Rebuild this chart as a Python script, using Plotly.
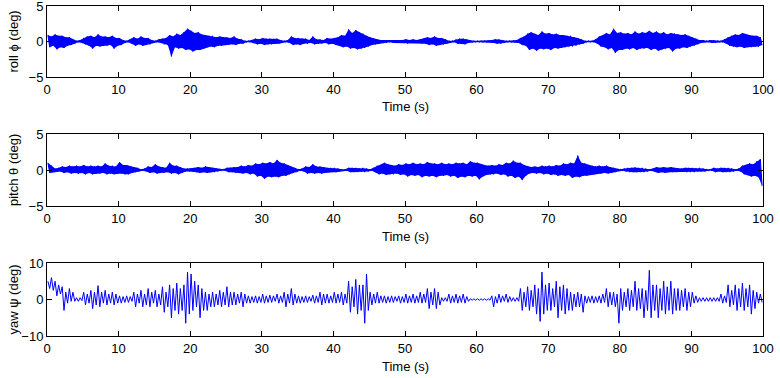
import plotly.graph_objects as go

# Envelope of each signal in 0.5 s bins (max / min within each bin)
bin_width = 0.5

roll_hi = [0.9,0.7, 1.0,0.8, 0.8,0.6, 0.6,0.3, 0.1,0.2, 0.5,0.7, 0.8,0.6, 1.0,0.7, 0.7,0.6, 0.8,0.5,
           0.5,0.2, 0.1,0.3, 0.6,0.4, 0.7,0.5, 0.5,0.2, 0.1,0.3, 0.4,0.5, 0.9,0.7, 1.1,0.9, 1.3,1.8,
           1.5,1.2, 1.3,1.0, 0.9,0.8, 0.8,0.6, 0.7,0.6, 0.6,0.5, 0.7,0.4, 0.3,0.1, 0.1,0.2, 0.4,0.3,
           0.5,0.4, 0.4,0.3, 0.4,0.2, 0.1,0.2, 0.7,0.5, 0.5,0.4, 0.4,0.2, 0.7,0.3, 0.3,0.2, 0.5,0.4,
           0.5,0.6, 0.9,0.8, 1.7,1.2, 1.6,1.3, 1.1,0.8, 0.6,0.4, 0.3,0.2, 0.2,0.1, 0.2,0.2, 0.2,0.2,
           0.3,0.2, 0.3,0.2, 0.3,0.4, 0.6,0.5, 0.7,0.5, 0.5,0.3, 0.1,0.1, 0.3,0.4, 0.4,0.3, 0.1,0.1,
           0.1,0.1, 0.1,0.1, 0.2,0.3, 0.3,0.2, 0.1,0.1, 0.1,0.2, 0.5,0.7, 1.1,1.3, 1.1,0.9, 1.4,1.1,
           1.2,1.0, 1.1,0.9, 0.9,0.8, 0.8,0.6, 0.5,0.3, 0.1,0.1, 0.1,0.3, 0.7,0.9, 1.2,1.0, 1.8,1.2,
           1.3,1.1, 1.2,1.0, 1.4,1.1, 1.3,1.2, 1.5,1.2, 1.4,1.1, 1.3,1.0, 1.2,1.1, 1.0,0.9, 1.0,0.8,
           0.6,0.4, 0.2,0.2, 0.1,0.2, 0.2,0.1, 0.1,0.3, 0.6,0.8, 1.0,0.9, 1.2,1.0, 0.9,0.8, 0.8,0.6]
roll_lo = [-0.8,-0.6, -1.1,-0.8, -0.9,-0.6, -0.5,-0.3, -0.1,-0.2, -0.4,-0.6, -1.0,-0.6, -0.7,-0.6, -0.6,-0.5, -1.0,-0.6,
           -0.5,-0.2, -0.1,-0.3, -0.6,-0.4, -0.6,-0.5, -0.4,-0.2, -0.1,-0.2, -0.4,-0.5, -2.1,-0.8, -1.0,-0.9, -1.2,-1.1,
           -1.4,-1.2, -1.2,-1.0, -0.8,-0.7, -0.8,-0.6, -0.6,-0.5, -0.5,-0.4, -0.5,-0.3, -0.3,-0.1, -0.1,-0.2, -0.4,-0.3,
           -0.5,-0.4, -0.4,-0.3, -0.3,-0.2, -0.1,-0.2, -0.5,-0.4, -0.5,-0.3, -0.3,-0.2, -0.4,-0.3, -0.3,-0.2, -0.4,-0.3,
           -0.5,-0.6, -0.8,-0.7, -1.0,-0.9, -1.1,-1.0, -0.9,-0.7, -0.5,-0.4, -0.3,-0.2, -0.2,-0.1, -0.2,-0.2, -0.2,-0.2,
           -0.3,-0.2, -0.2,-0.2, -0.3,-0.3, -0.5,-0.4, -0.6,-0.5, -0.4,-0.3, -0.1,-0.1, -0.3,-0.3, -0.4,-0.2, -0.1,-0.1,
           -0.1,-0.1, -0.1,-0.1, -0.2,-0.3, -0.3,-0.2, -0.1,-0.1, -0.1,-0.2, -0.5,-0.6, -1.2,-1.0, -1.3,-1.0, -1.1,-1.0,
           -1.2,-0.9, -1.0,-0.9, -0.8,-0.7, -0.7,-0.6, -0.4,-0.3, -0.1,-0.1, -0.1,-0.3, -0.7,-0.8, -1.1,-0.9, -1.6,-1.2,
           -1.2,-1.0, -1.1,-0.9, -1.2,-1.0, -1.0,-0.9, -1.2,-1.0, -1.3,-1.1, -1.0,-0.9, -1.4,-1.0, -1.0,-0.8, -0.9,-0.7,
           -0.6,-0.4, -0.2,-0.1, -0.1,-0.2, -0.2,-0.1, -0.1,-0.3, -0.6,-0.7, -0.8,-0.7, -0.9,-0.8, -0.8,-0.7, -0.7,-0.5]

pitch_hi = [1.0,0.6, 0.2,0.3, 0.5,0.4, 0.6,0.5, 0.6,0.5, 0.7,0.5, 0.6,0.5, 0.6,0.5, 0.9,0.6, 0.6,0.5,
            1.1,0.7, 0.7,0.5, 0.4,0.3, 0.1,0.2, 0.5,0.4, 0.8,0.5, 0.4,0.3, 1.0,0.6, 0.6,0.4, 0.2,0.2,
            0.2,0.3, 0.4,0.3, 0.5,0.4, 0.3,0.2, 0.1,0.1, 0.3,0.3, 0.4,0.4, 0.6,0.5, 0.7,0.6, 0.9,0.8,
            1.0,0.9, 1.1,0.9, 1.4,1.0, 0.9,0.7, 0.4,0.3, 0.1,0.2, 0.5,0.4, 0.8,0.5, 0.5,0.4, 0.3,0.3,
            0.3,0.2, 0.1,0.1, 0.3,0.3, 0.3,0.2, 0.3,0.2, 0.1,0.3, 0.6,0.7, 1.0,0.8, 0.7,0.6, 0.8,0.7,
            0.9,0.8, 1.0,0.8, 0.9,0.8, 1.1,0.9, 0.9,0.8, 1.0,0.8, 0.9,0.8, 1.0,0.9, 1.0,0.8, 1.2,1.0,
            1.0,0.8, 0.7,0.6, 0.7,0.6, 0.8,0.7, 1.0,0.9, 1.3,1.0, 1.0,0.7, 0.5,0.4, 0.5,0.4, 0.6,0.5,
            0.6,0.5, 0.7,0.6, 0.9,0.8, 1.0,0.9, 2.0,1.0, 0.9,0.7, 0.6,0.5, 0.6,0.5, 0.6,0.4, 0.3,0.1,
            0.1,0.2, 0.3,0.3, 0.35,0.3, 0.3,0.2, 0.1,0.2, 0.4,0.3, 0.4,0.3, 0.4,0.3, 0.2,0.2, 0.3,0.3,
            0.3,0.2, 0.3,0.2, 0.1,0.1, 0.3,0.2, 0.3,0.3, 0.3,0.2, 0.1,0.2, 0.6,0.7, 0.9,0.8, 1.2,1.5]
pitch_lo = [-0.4,-0.3, -0.2,-0.2, -0.4,-0.3, -0.5,-0.4, -0.5,-0.4, -0.6,-0.4, -0.6,-0.5, -0.5,-0.4, -0.6,-0.5, -0.6,-0.5,
            -0.5,-0.6, -0.6,-0.4, -0.3,-0.2, -0.1,-0.2, -0.4,-0.3, -0.5,-0.4, -0.4,-0.3, -0.5,-0.4, -0.6,-0.4, -0.2,-0.2,
            -0.2,-0.3, -0.4,-0.3, -0.4,-0.3, -0.3,-0.2, -0.1,-0.1, -0.3,-0.3, -0.4,-0.4, -0.5,-0.4, -0.6,-0.5, -0.9,-0.8,
            -1.2,-0.9, -1.0,-0.9, -1.0,-0.8, -0.8,-0.6, -0.4,-0.3, -0.1,-0.2, -0.5,-0.4, -0.5,-0.4, -0.5,-0.4, -0.3,-0.3,
            -0.3,-0.2, -0.1,-0.1, -0.3,-0.3, -0.3,-0.2, -0.3,-0.2, -0.1,-0.3, -0.6,-0.5, -0.7,-0.6, -0.6,-0.5, -0.7,-0.6,
            -0.9,-0.7, -0.8,-0.7, -1.0,-0.8, -0.9,-0.8, -1.0,-0.8, -0.8,-0.7, -0.9,-0.8, -1.1,-0.9, -1.0,-0.8, -0.9,-0.8,
            -1.3,-0.9, -0.7,-0.6, -0.6,-0.5, -0.7,-0.6, -0.9,-0.8, -1.1,-0.9, -1.4,-0.8, -0.5,-0.4, -0.5,-0.4, -0.6,-0.5,
            -0.7,-0.6, -0.8,-0.7, -0.8,-0.7, -1.1,-0.9, -1.0,-0.8, -0.8,-0.7, -0.6,-0.5, -0.5,-0.4, -0.5,-0.4, -0.3,-0.1,
            -0.1,-0.2, -0.3,-0.3, -0.3,-0.3, -0.3,-0.2, -0.1,-0.2, -0.4,-0.3, -0.4,-0.3, -0.3,-0.3, -0.2,-0.2, -0.3,-0.3,
            -0.3,-0.2, -0.2,-0.2, -0.1,-0.1, -0.3,-0.2, -0.3,-0.3, -0.3,-0.2, -0.1,-0.2, -0.6,-0.7, -0.9,-0.8, -1.0,-2.2]

yaw_hi = [5.0,6.0, 5.0,4.0, 3.5,2.0, 3.0,2.0, 0.5,0.5, 2.0,1.5, 2.5,2.0, 3.8,2.0, 2.5,1.5, 2.0,1.5,
          1.0,0.8, 1.0,0.8, 2.0,1.5, 2.5,1.5, 3.0,2.0, 2.5,1.5, 3.5,2.0, 4.0,3.0, 4.5,3.0, 4.0,7.5,
          7.0,5.0, 4.0,3.0, 2.0,1.5, 2.0,1.5, 2.5,2.0, 3.5,2.0, 2.0,1.5, 2.0,1.5, 1.0,0.8, 1.0,0.8,
          1.5,1.0, 1.2,1.0, 1.5,1.0, 2.0,1.5, 3.0,1.5, 1.0,0.8, 1.0,0.8, 1.2,1.0, 2.0,1.5, 1.5,1.0,
          2.0,1.5, 2.0,1.5, 5.0,3.5, 5.5,4.0, 4.0,7.0, 2.0,1.5, 2.0,1.0, 1.0,0.8, 1.0,0.8, 1.0,0.8,
          1.5,1.0, 1.5,1.0, 2.0,1.5, 3.0,2.0, 3.0,2.0, 0.5,0.5, 1.5,1.0, 1.5,1.0, 1.5,0.8, 0.2,0.2,
          0.2,0.2, 0.2,0.2, 1.0,0.8, 1.5,1.0, 1.5,0.8, 0.5,0.5, 3.0,2.0, 3.5,2.5, 4.0,3.0, 7.5,4.0,
          4.5,3.0, 5.0,3.5, 4.0,3.0, 2.0,1.5, 2.0,1.5, 1.0,0.8, 1.0,0.8, 1.0,1.5, 3.0,2.0, 2.0,1.5,
          3.0,2.0, 3.0,2.5, 5.0,3.0, 3.0,2.5, 8.0,4.0, 4.0,3.0, 5.0,3.5, 5.0,3.0, 3.0,2.5, 3.0,2.0,
          2.0,1.0, 0.5,0.5, 0.5,0.5, 0.5,0.5, 1.5,1.0, 4.0,2.5, 4.0,3.0, 4.5,3.0, 4.0,2.5, 2.0,1.5]
yaw_lo = [3.0,2.5, 1.0,1.5, -3.0,-1.0, -0.5,-0.5, -0.5,-0.3, -1.5,-1.0, -2.5,-1.5, -2.0,-1.0, -1.5,-1.0, -1.5,-1.0,
          -1.0,-0.8, -0.8,-0.5, -2.0,-1.0, -2.0,-1.5, -2.0,-1.0, -2.0,-1.5, -3.5,-2.0, -5.0,-3.0, -4.0,-3.0, -6.5,-4.0,
          -3.0,-2.0, -5.0,-3.0, -3.0,-2.0, -2.0,-1.5, -2.0,-1.5, -2.0,-1.5, -1.5,-1.0, -2.0,-1.0, -1.0,-0.8, -1.0,-0.8,
          -1.0,-0.8, -0.8,-0.5, -1.0,-0.8, -2.0,-1.0, -1.5,-1.0, -1.0,-0.8, -0.8,-0.5, -1.0,-0.8, -1.5,-1.0, -1.0,-0.8,
          -1.0,-0.8, -1.5,-1.0, -3.5,-2.0, -4.0,-3.0, -6.5,-3.0, -1.5,-1.0, -1.0,-0.8, -1.0,-0.8, -0.8,-0.5, -1.0,-0.8,
          -1.0,-0.8, -1.0,-0.8, -1.0,-0.8, -2.5,-1.5, -2.5,-1.5, -0.5,-0.5, -1.0,-0.8, -1.0,-0.8, -1.0,-0.5, -0.2,-0.2,
          -0.2,-0.2, -0.2,-0.2, -2.0,-1.0, -0.8,-0.5, -0.8,-0.5, -0.5,-0.5, -3.0,-2.0, -3.0,-2.0, -4.0,-6.0, -4.0,-3.0,
          -3.0,-2.0, -5.0,-3.0, -4.0,-3.0, -3.0,-2.0, -2.0,-3.5, -1.0,-0.8, -1.0,-0.8, -1.0,-0.8, -2.0,-1.5, -2.0,-6.5,
          -3.0,-2.0, -3.0,-2.0, -3.0,-2.5, -5.0,-3.0, -5.0,-3.0, -5.0,-3.0, -4.0,-3.0, -4.0,-3.0, -3.0,-2.0, -3.0,-2.0,
          -1.0,-0.8, -0.5,-0.5, -0.5,-0.5, -0.5,-0.5, -1.0,-0.8, -2.0,-1.5, -3.0,-2.0, -3.0,-2.0, -4.0,-2.5, -1.0,-0.8]

x_ticks = [0, 10, 20, 30, 40, 50, 60, 70, 80, 90, 100]
# (label, upper envelope, lower envelope, y ticks, draw dense core as filled band)
panels = [
    ("roll \u03d5 (deg)", roll_hi, roll_lo, [-5, 0, 5], True),
    ("pitch \u03b8 (deg)", pitch_hi, pitch_lo, [-5, 0, 5], True),
    ("yaw \u03c8 (deg)", yaw_hi, yaw_lo, [-10, 0, 10], False),
]

W, H = 780, 378
x0, x1 = 47, 763
pix_rows = [(6, 77), (134, 206), (263, 336)]
BLUE = "#0000ff"

fig = go.Figure()
FONT = "Liberation Sans, Arial, sans-serif"

for k, (label, hi, lo, yt, band) in enumerate(panels):
    n = "" if k == 0 else str(k + 1)
    t_hi = [j * bin_width + 0.25 * bin_width for j in range(len(hi))]
    t_lo = [j * bin_width + 0.75 * bin_width for j in range(len(lo))]
    if band:
        fig.add_trace(go.Scatter(x=t_hi, y=hi, mode="lines", line=dict(width=0, color=BLUE),
                                 xaxis="x" + n, yaxis="y" + n, showlegend=False,
                                 hoverinfo="skip"))
        fig.add_trace(go.Scatter(x=t_lo, y=lo, mode="lines", line=dict(width=0, color=BLUE),
                                 fill="tonexty", fillcolor=BLUE,
                                 xaxis="x" + n, yaxis="y" + n, showlegend=False,
                                 hoverinfo="skip"))
    t, v = [], []
    for th, tl, h, l in zip(t_hi, t_lo, hi, lo):
        t += [th, tl]
        v += [h, l]
    fig.add_trace(go.Scatter(x=t, y=v, mode="lines",
                             line=dict(color=BLUE, width=1),
                             xaxis="x" + n, yaxis="y" + n, showlegend=False,
                             hoverinfo="skip"))
    top, bot = pix_rows[k]
    axis_common = dict(showline=True, linecolor="black", linewidth=1, mirror="ticks",
                       ticks="inside", ticklen=5, tickcolor="black",
                       showgrid=False, zeroline=False, automargin=False,
                       ticklabeloverflow="allow",
                       tickfont=dict(family=FONT, size=13, color="black"))
    fig.layout["xaxis" + n] = dict(domain=[x0 / W, x1 / W], range=[0, 100],
                                   tickvals=x_ticks, anchor="y" + n, **axis_common)
    fig.layout["yaxis" + n] = dict(domain=[1 - bot / H, 1 - top / H],
                                   range=[yt[0], yt[-1]], tickvals=yt,
                                   anchor="x" + n, **axis_common)
    fig.add_annotation(text="Time (s)", xref="paper", yref="paper",
                       x=(x0 + x1) / 2 / W, y=1 - (bot + 30) / H,
                       showarrow=False, xanchor="center", yanchor="middle",
                       font=dict(family=FONT, size=13, color="black"))
    fig.add_annotation(text=label, xref="paper", yref="paper",
                       x=13 / W, y=1 - (top + bot) / 2 / H, textangle=-90,
                       showarrow=False, xanchor="center", yanchor="middle",
                       font=dict(family=FONT, size=13, color="black"))

fig.update_layout(width=W, height=H, margin=dict(l=0, r=0, t=0, b=0),
                  paper_bgcolor="white", plot_bgcolor="white")
fig.write_html("out.html")
